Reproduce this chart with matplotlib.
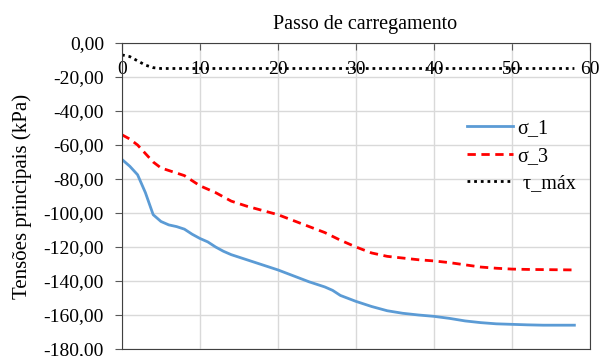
import matplotlib.pyplot as plt

plt.rcParams['font.family'] = ['Liberation Serif', 'DejaVu Serif']

# passo de carregamento
passo_s1 = [0, 1, 2, 3, 4, 5, 6, 7, 8, 9, 10, 11, 12, 13, 14, 16, 18, 20, 22, 24, 26, 27, 28,
            30, 32, 34, 36, 38, 40, 42, 44, 46, 48, 50, 52, 54, 56, 58]
sigma_1 = [-68.5, -72.5, -77.5, -88, -101, -105, -107, -108, -109.5, -112.5, -115, -117, -120,
           -122.5, -124.5, -127.5, -130.5, -133.5, -137, -140.5, -143.5, -145.5, -148.5,
           -152, -155, -157.5, -159, -160, -160.8, -162, -163.5, -164.5, -165.2, -165.5,
           -165.8, -166, -166, -166]

passo_s3 = [0, 1, 2, 3, 4, 5, 6, 7, 8, 9, 10, 12, 14, 16, 18, 20, 22, 24, 26, 28, 30, 32, 34,
            36, 38, 40, 42, 44, 46, 48, 50, 52, 54, 56, 58]
sigma_3 = [-54, -56.5, -60, -65, -70, -73.5, -75, -76.5, -78, -81, -84, -88, -93, -96, -98.5,
           -101, -104.5, -108, -111.5, -116, -120, -123.5, -125.5, -126.5, -127.5, -128.2,
           -129.2, -130.5, -131.8, -132.5, -133, -133.2, -133.3, -133.4, -133.5]

passo_t = [0, 1, 2, 3, 4, 5, 10, 20, 30, 40, 50, 58]
tau_max = [-7, -8, -10.5, -13, -14.5, -15, -15, -15, -15, -15, -15, -15]

fig = plt.figure(figsize=(6, 3.56), dpi=100)
ax = fig.add_axes([0.2033, 0.0197, 0.78, 0.8595])

ax.plot(passo_s1, sigma_1, color='#5B9BD5', lw=2.0, label='σ_1')
ax.plot(passo_s3, sigma_3, color='#FF0000', lw=2.0, linestyle=(0, (3, 2)), label='σ_3')
ax.plot(passo_t, tau_max, color='black', lw=2.0, linestyle=(0, (1, 1.4)), label=' τ_máx')

ax.set_xlim(0, 60)
ax.set_ylim(-180, 0)
ax.set_xticks(range(0, 61, 10))
ax.set_yticks(range(-180, 1, 20))
ax.set_yticklabels([f'{v},00' if v != 0 else '0,00' for v in range(-180, 1, 20)])

ax.xaxis.tick_top()
ax.tick_params(axis='x', direction='in', length=5, pad=-25, labelsize=14, color='#595959')
ax.tick_params(axis='y', direction='out', length=5, pad=8, labelsize=14, color='#595959')
ax.grid(True, color='#d9d9d9', lw=1.0)
for s in ax.spines.values():
    s.set_color('#404040')

ax.set_title('Passo de carregamento', fontsize=14.5, pad=10, x=0.52)
ax.set_ylabel('Tensões principais (kPa)', fontsize=15, labelpad=8)

ax.legend(loc='upper left', bbox_to_anchor=(0.699, 0.81), frameon=False, fontsize=14.5,
          handlelength=2.25, handletextpad=0.25, labelspacing=0.42)

fig.savefig('out.png', dpi=100)
